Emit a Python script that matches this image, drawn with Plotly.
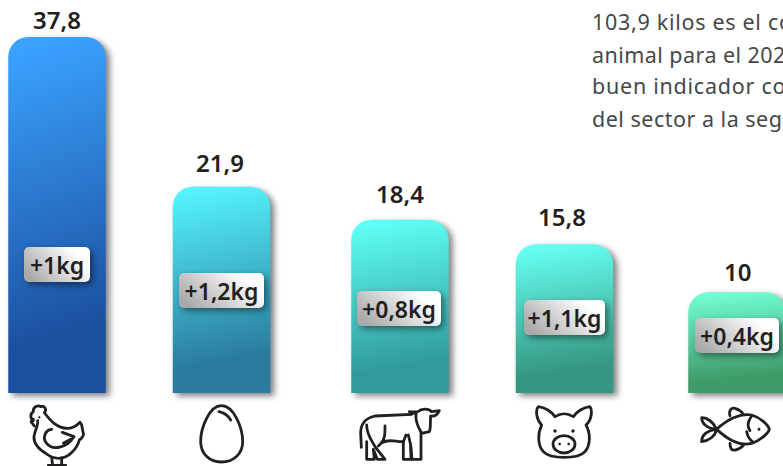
import re
import plotly.graph_objects as go

# ---- data ----
categories = ["Pollo", "Huevo", "Res", "Cerdo", "Pescado"]
bar_values = [37.8, 21.9, 18.4, 15.8, 10.7]      # drawn height of each bar
value_labels = ["37,8", "21,9", "18,4", "15,8", "10"]
gain_labels = ["+1kg", "+1,2kg", "+0,8kg", "+1,1kg", "+0,4kg"]
note_lines = ["103,9 kilos es el co", "animal para el 202", "buen indicador co", "del sector a la seg"]

# ---- layout / style ----
W, H = 783, 466
BASE_Y = 393
PX_PER_UNIT = 9.42
SLOT = 170.0
bar_w = 97.5 / SLOT
bar_shift_px = [0, -5.5, 3, -2.5, 0]
label_shift_x = [0, -7.5, 3, -5, 0]
label_shift_y = [17, 24, 26, 28, 21]
pill_centre_y = [264.5, 290.5, 308.5, 317.5, 335.5]
pill_centre_x = [57, 221.5, 399, 564.5, 737]
pill_w = [66, 85, 84, 81, 84]
pill_h = 35
note_spacing = [0.7, 0.45, 0.75, 0.5]
gradients = [("#3aa2ff", "#1c4f9e"), ("#55f3fc", "#2a7b9c"), ("#5ffef6", "#319a9c"),
             ("#66fff2", "#359782"), ("#72fdd4", "#3f9b69")]
INK = "#231f20"
FONT = "Noto Sans"


def to_paper(path, ox, oy, s=3.0):
    """Icon outlines were traced at 3x zoom; map them to paper coordinates."""
    def rep(m):
        x = float(m.group(1)) / s + ox
        y = float(m.group(2)) / s + oy
        return f"{x / W:.5f},{1 - y / H:.5f}"
    return re.sub(r"(-?\d+\.?\d*),(-?\d+\.?\d*)", rep, path)


def ell(cx, cy, rx, ry):
    k = 0.5523
    return (f"M{cx - rx},{cy} C{cx - rx},{cy - k * ry} {cx - k * rx},{cy - ry} {cx},{cy - ry} "
            f"C{cx + k * rx},{cy - ry} {cx + rx},{cy - k * ry} {cx + rx},{cy} "
            f"C{cx + rx},{cy + k * ry} {cx + k * rx},{cy + ry} {cx},{cy + ry} "
            f"C{cx - k * rx},{cy + ry} {cx - rx},{cy + k * ry} {cx - rx},{cy} Z")


icons = [
    # chicken
    (0, 390, [
        "M100,92 C90,85 90,70 100,65 C98,50 115,44 122,50 C135,45 141,60 133,68 C150,90 170,116 205,115 "
        "C220,115 232,105 240,97 C249,105 245,115 249,125 C253,135 245,145 238,150 C232,175 205,205 178,205 "
        "C160,205 150,200 140,192 C120,180 100,165 102,140 C105,120 115,105 113,92",
        "M100,88 L93,95 L103,108",
        "M155,118 C135,120 126,145 140,160 C155,180 197,178 222,140 L187,127",
        "M190,160 L212,148",
        "M155,203 L158,226 M185,203 L185,226 M145,226 L197,226",
    ], [(118, 82, 3.5, 3.5)]),
    # egg
    (0, 390, [
        "M664,47 C700,47 728,110 728,155 C728,192 700,216 664,216 C630,216 602,192 602,155 C602,110 630,47 664,47 Z",
        "M657,65 C672,68 685,78 692,90",
    ], []),
    # cow
    (340, 390, [
        "M64,172 L62,128 C62,105 75,85 105,78 L215,73",
        "M208,65 L232,66 C245,55 265,55 275,65 L298,62 C292,75 282,80 272,78 C270,100 273,115 268,125 L245,130 "
        "C238,115 225,100 228,72 L208,65",
        "M243,128 L243,208 L216,208 L212,165 L205,135",
        "M190,155 L190,208 L213,208 L212,170",
        "M135,108 C135,130 135,145 125,158 C150,145 170,157 190,155 L198,135",
        "M80,105 C80,135 95,150 105,170 L135,208 L112,208 L100,178 L103,208 L80,208 L80,155",
        "M125,158 L115,168",
    ], []),
    # pig
    (340, 390, [
        "M605,105 C590,90 585,62 595,50 C615,52 635,65 645,80 C665,68 680,68 700,80 C710,65 730,52 750,50 "
        "C758,62 755,90 738,105 C752,130 752,165 735,185 C715,208 630,208 610,185 C592,165 593,130 605,105 Z",
        ell(672, 163, 33, 26),
    ], [(645, 123, 5, 5), (699, 123, 5, 5), (659, 162, 4, 4), (686, 162, 4, 4)]),
    # fish
    (340, 390, [
        "M1130,118 C1160,90 1200,68 1235,75 C1260,82 1285,105 1288,118 C1285,130 1260,152 1235,160 "
        "C1195,170 1160,145 1130,118 Z",
        "M1130,118 C1120,95 1100,82 1085,83 C1085,100 1100,115 1130,118 C1100,122 1085,135 1085,155 C1105,152 1125,140 1130,118",
        "M1170,78 C1165,60 1175,52 1185,55 C1195,58 1205,65 1210,72",
        "M1170,160 C1170,175 1175,182 1185,180 C1195,178 1205,172 1210,166",
        "M1235,78 C1222,95 1222,110 1230,122 M1220,125 C1222,140 1230,150 1240,157",
    ], [(1257, 118, 4.5, 4.5)]),
]

fig = go.Figure(go.Bar(
    x=categories,
    y=bar_values,
    width=bar_w,
    offset=[-bar_w / 2 + d / SLOT for d in bar_shift_px],
    marker=dict(color=[g[1] for g in gradients], cornerradius=20, line=dict(width=0)),
    hoverinfo="skip",
))

annotations = []
for i, cat in enumerate(categories):
    annotations.append(dict(
        x=cat, y=bar_values[i], xref="x", yref="y", text=value_labels[i], showarrow=False,
        xanchor="center", yanchor="middle", xshift=label_shift_x[i], yshift=label_shift_y[i],
        font=dict(family=FONT, size=24, color=INK, weight=600),
    ))
    annotations.append(dict(
        x=pill_centre_x[i] / W, y=1 - pill_centre_y[i] / H, xref="paper", yref="paper",
        text=gain_labels[i], showarrow=False, xanchor="center", yanchor="middle",
        width=pill_w[i], height=pill_h, borderpad=0, borderwidth=0, bgcolor="#ffffff", align="center",
        font=dict(family=FONT, size=23, color=INK, weight=600),
    ))
note_base = [22, 54, 86, 118]
for line, yp in zip(note_lines, note_base):
    annotations.append(dict(
        x=590 / W, y=1 - yp / H, xref="paper", yref="paper", text=line, showarrow=False,
        xanchor="left", yanchor="middle", align="left",
        font=dict(family=FONT, size=21.5, color="#474747"),
    ))

shapes = []
for ox, oy, strokes, dots in icons:
    for p in strokes:
        shapes.append(dict(type="path", xref="paper", yref="paper", path=to_paper(p, ox, oy),
                           line=dict(color=INK, width=2.8), fillcolor="rgba(0,0,0,0)"))
    for cx, cy, rx, ry in dots:
        shapes.append(dict(type="path", xref="paper", yref="paper", path=to_paper(ell(cx, cy, rx, ry), ox, oy),
                           line=dict(width=0), fillcolor=INK))

fig.update_layout(
    width=W, height=H, margin=dict(l=0, r=0, t=0, b=0), autosize=False,
    paper_bgcolor="white", plot_bgcolor="white", showlegend=False,
    xaxis=dict(type="category", range=[-57 / SLOT, 4 + 46 / SLOT], visible=False, fixedrange=True),
    yaxis=dict(range=[-(H - BASE_Y) / PX_PER_UNIT, BASE_Y / PX_PER_UNIT], visible=False, fixedrange=True),
    annotations=annotations, shapes=shapes,
)

stops = ",".join(f'["{a}","{b}"]' for a, b in gradients)
notes_js = ",".join(f'["{t}",{s}]' for t, s in zip(note_lines, note_spacing))
post = """
document.documentElement.style.margin = '0';
document.documentElement.style.overflow = 'hidden';
document.body.style.margin = '0';
document.body.style.overflow = 'hidden';
var gd = document.getElementById('{plot_id}');
var NS = 'http://www.w3.org/2000/svg';
var svg = gd.querySelector('svg.main-svg');
var defs = document.createElementNS(NS, 'defs');
function grad(id, x1, y1, x2, y2, a, b) {
  var g = document.createElementNS(NS, 'linearGradient');
  g.setAttribute('id', id); g.setAttribute('x1', x1); g.setAttribute('y1', y1);
  g.setAttribute('x2', x2); g.setAttribute('y2', y2);
  [[0, a], [1, b]].forEach(function (s) {
    var st = document.createElementNS(NS, 'stop');
    st.setAttribute('offset', s[0]); st.setAttribute('stop-color', s[1]); g.appendChild(st);
  });
  defs.appendChild(g);
}
var cols = [STOPS];
cols.forEach(function (c, i) { grad('barg' + i, 0.42, 0, 0.5, 0.85, c[0], c[1]); });
grad('pillg', 0, 0.7, 0.85, 0.3, '#a9a9a9', '#ffffff');
svg.insertBefore(defs, svg.firstChild);
gd.querySelectorAll('.bars .point path').forEach(function (p, i) {
  p.style.fill = 'url(#barg' + i + ')';
  p.style.filter = 'drop-shadow(4px 3px 3px rgba(0,0,0,0.5))';
});
gd.querySelectorAll('.annotation').forEach(function (a) {
  var r = a.querySelector('rect.bg');
  if (r && parseFloat(r.getAttribute('height')) > 34 && parseFloat(r.getAttribute('height')) < 37) {
    r.setAttribute('rx', 5); r.setAttribute('ry', 5);
    r.style.fill = 'url(#pillg)';
    r.style.filter = 'drop-shadow(3px 3px 3px rgba(0,0,0,0.45))';
  }
});
var notes = [NOTES];
gd.querySelectorAll('.annotation-text').forEach(function (t) {
  notes.forEach(function (n) {
    if (t.textContent === n[0]) { t.style.letterSpacing = n[1] + 'px'; }
  });
});
gd.querySelectorAll('.shapelayer path').forEach(function (p) {
  p.style.strokeLinecap = 'round'; p.style.strokeLinejoin = 'round';
});
""".replace("STOPS", stops).replace("NOTES", notes_js)

fig.write_html("out.html", config={"displayModeBar": False}, post_script=post)
